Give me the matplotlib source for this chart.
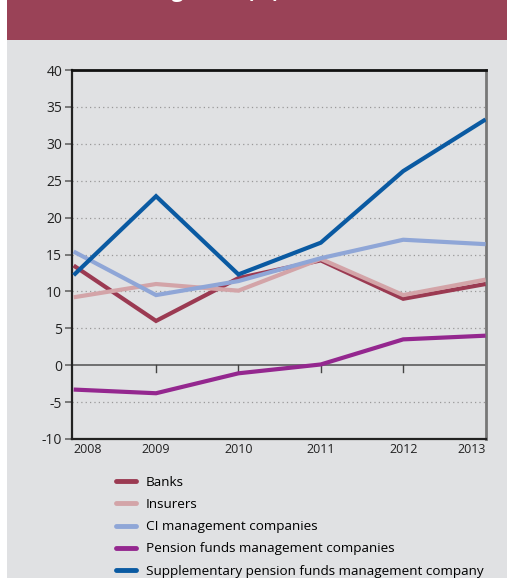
import matplotlib
matplotlib.use("Agg")
import matplotlib.pyplot as plt
from matplotlib.patches import Rectangle
from matplotlib.lines import Line2D

years = [2008, 2009, 2010, 2011, 2012, 2013]
banks = [13.5, 6.0, 11.8, 14.2, 9.0, 11.0]
insurers = [9.2, 11.0, 10.1, 14.4, 9.5, 11.6]
ci_mgmt = [15.4, 9.5, 11.4, 14.5, 17.0, 16.4]
pension_mgmt = [-3.3, -3.8, -1.1, 0.1, 3.5, 4.0]
supp_pension = [12.2, 22.9, 12.3, 16.6, 26.3, 33.3]

series_labels = ["Banks", "Insurers", "CI management companies",
                 "Pension funds management companies",
                 "Supplementary pension funds management company"]
series_values = [banks, insurers, ci_mgmt, pension_mgmt, supp_pension]
colors = ["#9b3a52", "#d3a4a8", "#8fa6d7", "#94278f", "#0a5aa2"]
yticks = [-10, -5, 0, 5, 10, 15, 20, 25, 30, 35, 40]
title = "Earnings ROE (%)"

plt.rcParams['font.family'] = ['Open Sans', 'DejaVu Sans']

W, H = 507, 578
fig = plt.figure(figsize=(W / 100, H / 100), dpi=100)
fig.patch.set_facecolor("white")
bg = "#e0e1e3"

bgax = fig.add_axes([0, 0, 1, 1], zorder=0)
bgax.set_xlim(0, W)
bgax.set_ylim(H, 0)
bgax.axis("off")
bgax.add_patch(Rectangle((7, 0), W - 7, H, facecolor=bg, edgecolor="none"))
bgax.add_patch(Rectangle((7, 0), W - 7, 40, facecolor="#9a4257", edgecolor="none"))
bgax.text(280, -3.0, title, ha="right", va="baseline", color="white",
          fontsize=15, fontweight="bold", clip_on=False)

ax = fig.add_axes([72 / W, 1 - 439 / H, (486 - 72) / W, (439 - 70) / H], zorder=2)
ax.set_facecolor(bg)
for vals, c, lab in zip(series_values, colors, series_labels):
    ax.plot(years, vals, color=c, lw=3, label=lab, solid_capstyle="butt",
            solid_joinstyle="miter", zorder=3)

ax.set_xlim(2008 - 0.02, 2013 + 0.005)
ax.set_ylim(-10, 40)
ax.set_yticks(yticks)
ax.set_yticklabels([str(v) for v in yticks], fontsize=10, color="#222222")
ax.tick_params(axis="y", length=5, width=1.2, color="#666666", pad=2)
for v in yticks:
    if v not in (0, -10, 40):
        ax.axhline(v, color="#999999", lw=0.9, ls=(0, (1, 2.5)), zorder=1)
ax.axhline(0, color="#666666", lw=1.3, zorder=2)

ax.set_xticks(years)
ax.set_xticklabels([])
ax.tick_params(axis="x", length=0)
for yr in years[1:-1]:
    ax.plot([yr, yr], [0, -0.9], color="#444444", lw=1.0, zorder=2)
for i, yr in enumerate(years):
    ha = "left" if i == 0 else ("right" if i == len(years) - 1 else "center")
    ax.text(yr, -10.6, str(yr), ha=ha, va="top", fontsize=9, color="#222222")

ax.spines["left"].set_color("#222222")
ax.spines["left"].set_linewidth(1.6)
ax.spines["bottom"].set_color("#222222")
ax.spines["bottom"].set_linewidth(1.6)
ax.spines["top"].set_color("#111111")
ax.spines["top"].set_linewidth(2)
ax.spines["right"].set_color("#777777")
ax.spines["right"].set_linewidth(2)

handles = [Line2D([], [], color=c, lw=3.5, solid_capstyle="round") for c in colors]
leg = fig.legend(handles, series_labels, loc="upper left",
                 bbox_to_anchor=(116 / W, 1 - 476 / H), frameon=False,
                 fontsize=9.7, handlelength=1.5, handletextpad=0.7,
                 labelspacing=0.68, borderaxespad=0, borderpad=0)
leg.set_zorder(3)

fig.savefig("out.png", dpi=100)
